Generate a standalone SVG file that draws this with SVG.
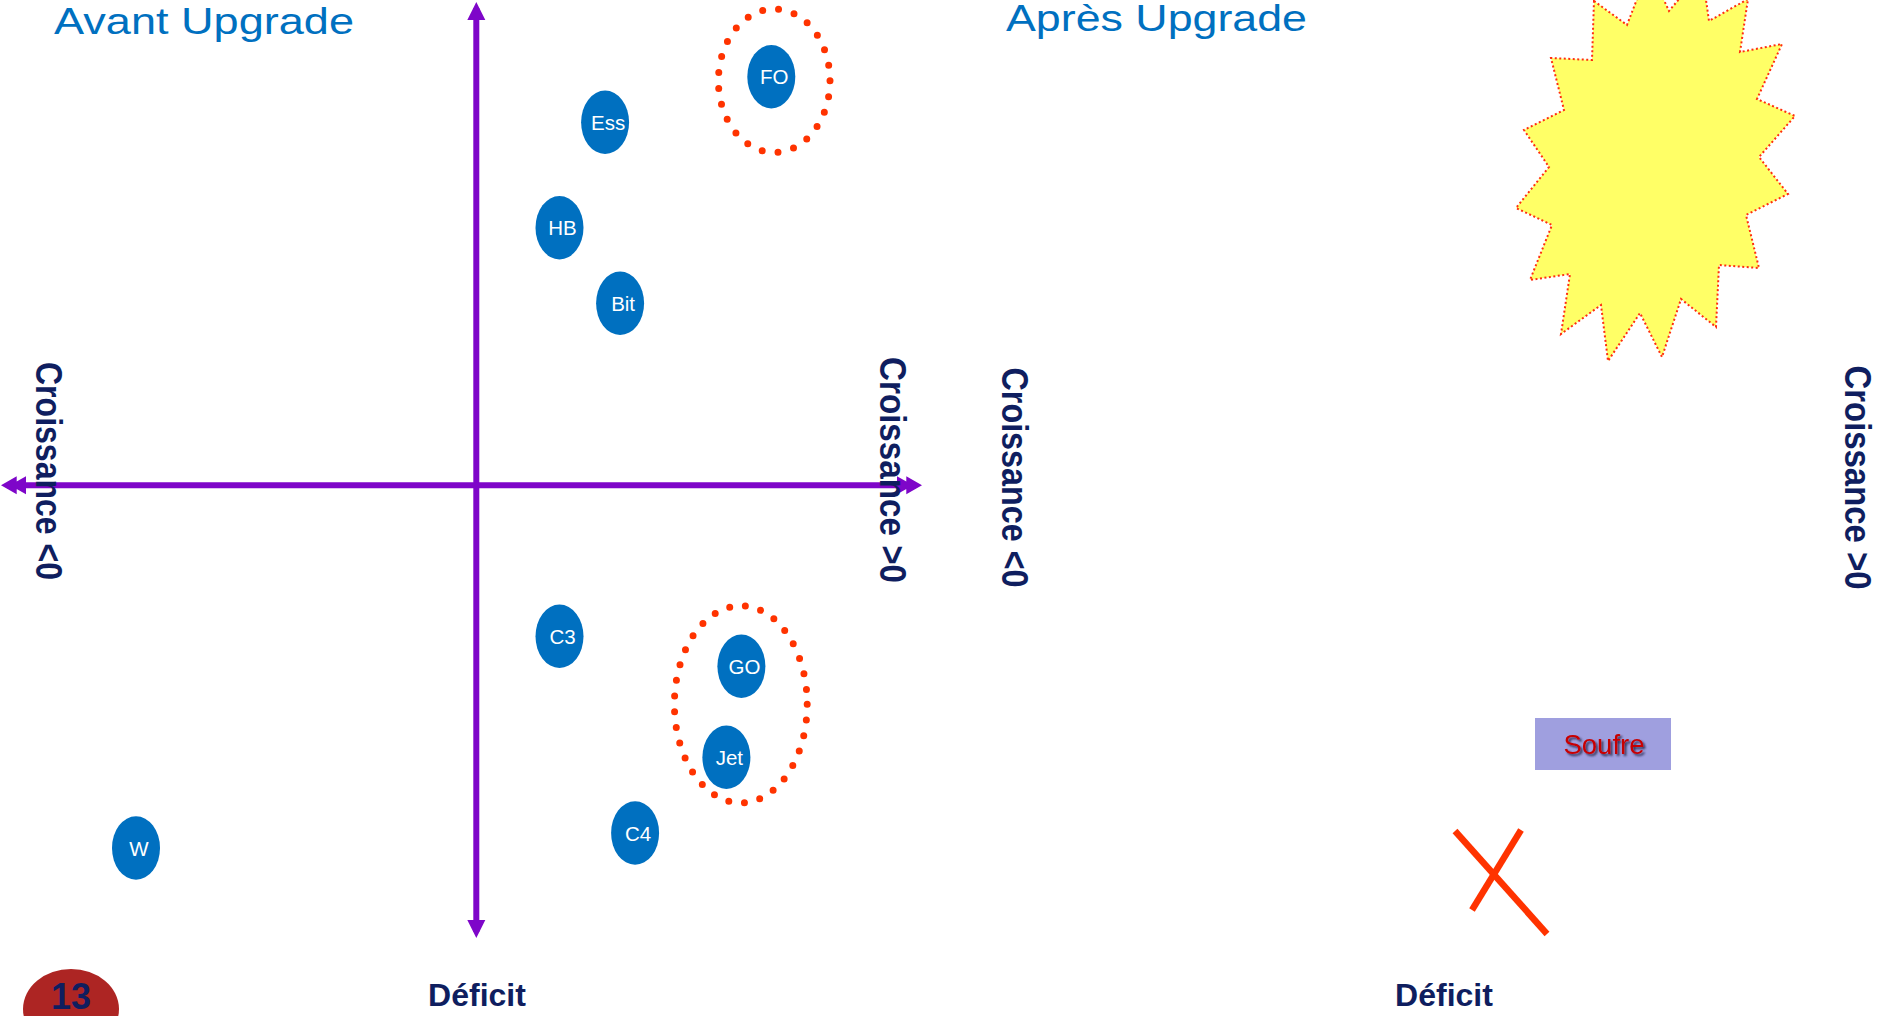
<svg xmlns="http://www.w3.org/2000/svg" width="1882" height="1016" viewBox="0 0 1882 1016">
<style>
.title{font-family:"Liberation Sans",Arial,sans-serif;font-size:36.5px;fill:#0070C0;}
.axis{stroke:#7E06C9;stroke-width:6;fill:none;}
.node ellipse{fill:#0070C0;}
.node text{font-family:"Liberation Sans",Arial,sans-serif;font-size:20.5px;fill:#FFFFFF;text-anchor:middle;}
.lbl{font-family:"Liberation Sans",Arial,sans-serif;font-weight:bold;fill:#0F1E5F;}
.croiss{font-size:36px;}
.def{font-size:32px;text-anchor:middle;}
.ring{fill:none;stroke:#FF3300;stroke-width:7;stroke-linecap:round;}
.cross{stroke:#FF3300;stroke-width:6.5;stroke-linecap:butt;}
</style>
<defs>
<marker id="dbl" markerUnits="userSpaceOnUse" markerWidth="30" markerHeight="22" viewBox="0 -11 30 22" refX="19" refY="0" orient="auto-start-reverse">
<path d="M25,0 L9.3,-9 L9.3,9 Z M16,0 L0,-9 L0,9 Z" fill="#7E06C9"/>
</marker>
<marker id="sgl" markerUnits="userSpaceOnUse" markerWidth="22" markerHeight="22" viewBox="0 -11 22 22" refX="12" refY="0" orient="auto-start-reverse">
<path d="M18,0 L0,-9 L0,9 Z" fill="#7E06C9"/>
</marker>
<filter id="shadow" x="-20%" y="-30%" width="140%" height="160%">
<feDropShadow dx="2" dy="2" stdDeviation="1.2" flood-color="#222244" flood-opacity="0.9"/>
</filter>
</defs>
<rect x="0" y="0" width="1882" height="1016" fill="#FFFFFF"/>

<g id="titles">
<text class="title" x="54" y="34" textLength="300" lengthAdjust="spacingAndGlyphs">Avant Upgrade</text>
<text class="title" x="1006" y="31" textLength="301" lengthAdjust="spacingAndGlyphs">Après Upgrade</text>
</g>

<g id="starburst">
<polygon points="1594,1 1627,25 1649,-32 1669,11 1702,-28 1709,21 1748,-1 1740,52 1782,44 1757,99 1795,116 1759,157 1788,194 1746,215 1759,268 1719,265 1716,327 1681,299 1662,357 1640,313 1608,361 1601,305 1561,334 1570,274 1530,280 1552,225 1516,208 1549,167 1524,130 1564,110 1551,58 1592,60" fill="#FFFF66" stroke="#FF2D10" stroke-width="2" stroke-dasharray="2 2.5"/>
</g>

<g id="connectors">
<line class="axis" x1="476.3" y1="8" x2="476.3" y2="932" marker-start="url(#sgl)" marker-end="url(#sgl)"/>
<line class="axis" x1="7" y1="485.3" x2="916" y2="485.3" marker-start="url(#dbl)" marker-end="url(#dbl)"/>
</g>

<g id="axis-labels">
<text class="lbl croiss" transform="translate(35.5,362) rotate(90)" textLength="218" lengthAdjust="spacingAndGlyphs">Croissance &lt;0</text>
<text class="lbl croiss" transform="translate(880,357) rotate(90)" textLength="226" lengthAdjust="spacingAndGlyphs">Croissance &gt;0</text>
<text class="lbl croiss" transform="translate(1001.5,367.5) rotate(90)" textLength="220" lengthAdjust="spacingAndGlyphs">Croissance &lt;0</text>
<text class="lbl croiss" transform="translate(1845,365.5) rotate(90)" textLength="224" lengthAdjust="spacingAndGlyphs">Croissance &gt;0</text>
<text class="lbl def" x="477" y="1006">Déficit</text>
<text class="lbl def" x="1444" y="1006">Déficit</text>
</g>

<g id="group-FO">
<ellipse class="ring" cx="774.2" cy="80.7" rx="55.8" ry="71.7" stroke-dasharray="0 16.08"/>
</g>
<g id="group-GO-Jet">
<ellipse class="ring" cx="740.8" cy="704.3" rx="66.4" ry="98.5" stroke-dasharray="0 15.85"/>
</g>

<g id="node-FO" class="node"><ellipse cx="771.3" cy="76.7" rx="24" ry="31.7"/><text x="774.3" y="84.3">FO</text></g>
<g id="node-Ess" class="node"><ellipse cx="605.1" cy="122.3" rx="24" ry="31.7"/><text x="608.1" y="129.9">Ess</text></g>
<g id="node-HB" class="node"><ellipse cx="559.5" cy="227.7" rx="24" ry="31.7"/><text x="562.5" y="235.3">HB</text></g>
<g id="node-Bit" class="node"><ellipse cx="620.1" cy="303.3" rx="24" ry="31.7"/><text x="623.1" y="310.9">Bit</text></g>
<g id="node-C3" class="node"><ellipse cx="559.5" cy="636.3" rx="24" ry="31.7"/><text x="562.5" y="643.9">C3</text></g>
<g id="node-GO" class="node"><ellipse cx="741.4" cy="666.3" rx="24" ry="31.7"/><text x="744.4" y="673.9">GO</text></g>
<g id="node-Jet" class="node"><ellipse cx="726.4" cy="757.3" rx="24" ry="31.7"/><text x="729.4" y="764.9">Jet</text></g>
<g id="node-C4" class="node"><ellipse cx="635.1" cy="833" rx="24" ry="31.7"/><text x="638.1" y="840.6">C4</text></g>
<g id="node-W" class="node"><ellipse cx="136" cy="848" rx="24" ry="31.7"/><text x="139" y="855.6">W</text></g>

<g id="soufre">
<rect x="1535" y="718" width="136" height="52" fill="#9F9FDF"/>
<text x="1604" y="753.5" font-family="'Liberation Sans',Arial,sans-serif" font-size="27.5" fill="#C80000" text-anchor="middle" filter="url(#shadow)">Soufre</text>
</g>

<g id="cross">
<line class="cross" x1="1455" y1="831" x2="1547" y2="934"/>
<line class="cross" x1="1521" y1="830" x2="1472" y2="910"/>
</g>

<g id="badge">
<ellipse cx="71" cy="1009" rx="48" ry="40" fill="#AD2523"/>
<text class="lbl" x="71" y="1009" font-size="36" text-anchor="middle">13</text>
</g>
</svg>
